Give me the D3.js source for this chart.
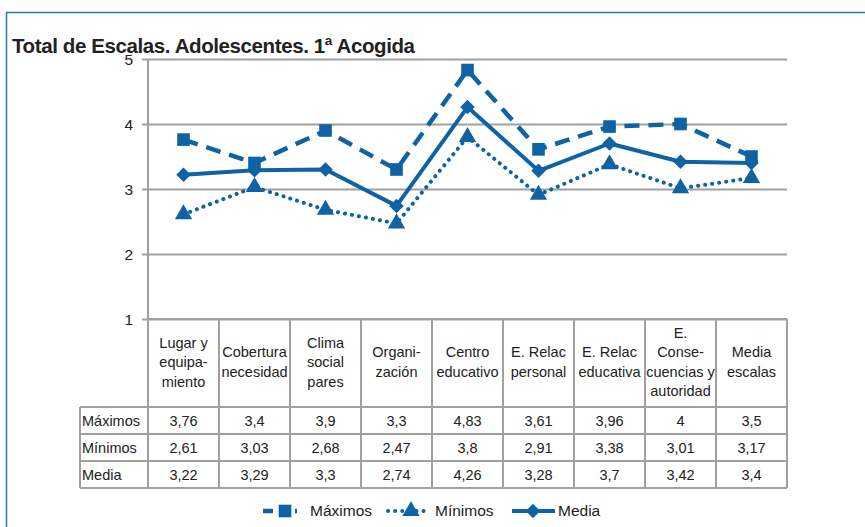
<!DOCTYPE html>
<html><head><meta charset="utf-8">
<script src="https://cdn.jsdelivr.net/npm/d3@7"></script>
<style>
body{margin:0;background:#fff;}
svg text{font-family:"Liberation Sans",Arial,Helvetica,sans-serif;fill:#222;}
</style></head>
<body><svg id="c" width="865" height="527"></svg>
<script>
const title = "Total de Escalas. Adolescentes. 1ª Acogida";
const categories = ["Lugar y|equipa-|miento","Cobertura|necesidad","Clima|social|pares","Organi-|zación","Centro|educativo","E. Relac|personal","E. Relac|educativa","E.|Conse-|cuencias y|autoridad","Media|escalas"];
const seriesNames = ["Máximos","Mínimos","Media"];
const maximos = [3.76,3.4,3.9,3.3,4.83,3.61,3.96,4,3.5];
const minimos = [2.61,3.03,2.68,2.47,3.8,2.91,3.38,3.01,3.17];
const media   = [3.22,3.29,3.3,2.74,4.26,3.28,3.7,3.42,3.4];
const yTicks = [1,2,3,4,5];

const blue = "#0f63a5", grid = "#a0a0a0";
const svg = d3.select("#c");

// outer frame
svg.append("path").attr("d","M6.5,527 V12.5 H865").attr("fill","none").attr("stroke","#2a78bb").attr("stroke-width",1.5);

// title
const t = svg.append("text").attr("x",12).attr("y",53).attr("font-size",20.5).attr("font-weight","bold").attr("fill","#111").text(title);
const tw = t.node().getComputedTextLength();
t.attr("letter-spacing", ((403 - tw) / (title.length - 1)).toFixed(3));

const x = d3.scaleBand().domain(categories).range([148,787]);
const y = d3.scaleLinear().domain([1,5]).range([319,59]);

// grid
svg.append("g").attr("transform","translate(148,0)")
  .call(d3.axisLeft(y).tickValues(yTicks).tickSize(-(787-148)).tickFormat(""))
  .call(g=>{g.select(".domain").remove();g.selectAll("line").attr("stroke",grid).attr("stroke-width",2);});
// tick marks + labels
svg.append("g").attr("transform","translate(148,0)")
  .call(d3.axisLeft(y).tickValues(yTicks).tickSize(6).tickPadding(8).tickFormat(d=>d))
  .call(g=>{g.select(".domain").remove();g.selectAll("line").attr("stroke",grid).attr("stroke-width",2);
    g.selectAll("text").attr("font-size",15.5).attr("fill","#222").attr("font-family","Liberation Sans,Arial,sans-serif").attr("dy","0.35em").attr("dx","-1");});

// table
const rowTop = [319,407,434,461,488];
const tbl = svg.append("g");
const ln = (x1,y1,x2,y2)=>tbl.append("line").attr("x1",x1).attr("y1",y1).attr("x2",x2).attr("y2",y2).attr("stroke",grid).attr("stroke-width",2);
categories.forEach(c=>ln(x(c),59,x(c),488).attr("y1", c===categories[0]?59:319));
ln(787,319,787,488);
ln(80,407,80,488);
ln(148,319,787,319);
rowTop.slice(1).forEach(r=>ln(80,r,787,r));

// header labels
categories.forEach(c=>{
  const lines = c.split("|");
  const lh = 19.5, cy = 362;
  const y0 = cy - (lines.length-1)*lh/2;
  const tx = svg.append("text").attr("text-anchor","middle").attr("font-size",14.5);
  lines.forEach((l,i)=>tx.append("tspan").attr("x",x(c)+x.bandwidth()/2).attr("y",y0+i*lh).attr("dy","0.35em").text(l));
});
const fmt = v=>String(v).replace(".",",");
[maximos,minimos,media].forEach((arr,ri)=>{
  const yc = (rowTop[ri+1]+rowTop[ri+2])/2;
  svg.append("text").attr("x",82).attr("y",yc).attr("dy","0.35em").attr("font-size",14.5).text(seriesNames[ri]);
  arr.forEach((v,i)=>svg.append("text").attr("x",x(categories[i])+x.bandwidth()/2).attr("y",yc).attr("dy","0.35em")
     .attr("text-anchor","middle").attr("font-size",14.5).text(fmt(v)));
});

// series
const cx = i=>x(categories[i])+x.bandwidth()/2;
const line = d3.line().x((d,i)=>cx(i)).y(d=>y(d));
const styles = [
  {data:maximos, dash:"15 9", w:4.5, cap:"butt", sym:d3.symbolSquare, size:160, rot:0},
  {data:minimos, dash:"0.1 7", w:4, cap:"round", sym:d3.symbolTriangle, size:130, rot:0},
  {data:media, dash:null, w:4, cap:"butt", sym:d3.symbolSquare, size:105, rot:45}
];
styles.forEach(s=>{
  svg.append("path").datum(s.data).attr("d",line).attr("fill","none").attr("stroke",blue)
    .attr("stroke-width",s.w).attr("stroke-dasharray",s.dash).attr("stroke-linecap",s.cap).attr("stroke-linejoin","round");
});
styles.forEach(s=>{
  svg.append("g").selectAll("path").data(s.data).join("path")
    .attr("transform",(d,i)=>`translate(${cx(i)},${y(d)}) rotate(${s.rot})`)
    .attr("d",d3.symbol().type(s.sym).size(s.size)).attr("fill",blue);
});

// legend
const leg = [{x1:263,x2:297,m:285,tx:310},{x1:388,x2:428,m:411,tx:435},{x1:512,x2:555,m:533,tx:558}];
const ly = 511;
leg.forEach((l,i)=>{
  const s = styles[i];
  svg.append("line").attr("x1",l.x1).attr("x2",l.x2).attr("y1",ly).attr("y2",ly).attr("stroke",blue)
    .attr("stroke-width",s.w).attr("stroke-dasharray",i===0?"10 6":s.dash).attr("stroke-linecap",s.cap);
  svg.append("path").attr("transform",`translate(${l.m},${ly}) rotate(${s.rot})`).attr("d",d3.symbol().type(s.sym).size(s.size)).attr("fill",blue);
  svg.append("text").attr("x",l.tx).attr("y",ly).attr("dy","0.35em").attr("font-size",15.5).text(seriesNames[i]);
});
</script></body></html>
